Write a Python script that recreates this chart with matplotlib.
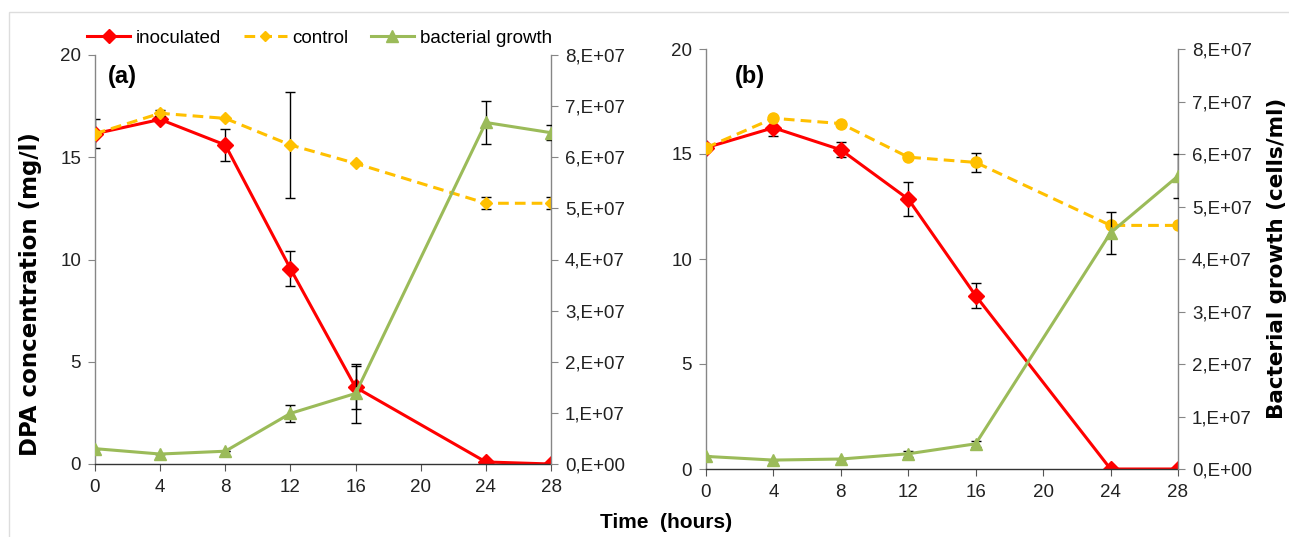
import matplotlib
matplotlib.use("Agg")
import matplotlib.pyplot as plt
from matplotlib.patches import Rectangle
from matplotlib.lines import Line2D
from matplotlib.ticker import FixedLocator, FixedFormatter

plt.rcParams['font.family'] = ['Liberation Sans', 'DejaVu Sans']

time_h = [0, 4, 8, 12, 16, 24, 28]
x_ticks = [0, 4, 8, 12, 16, 20, 24, 28]
left_ticks = [0, 5, 10, 15, 20]
right_ticks = [0, 1e7, 2e7, 3e7, 4e7, 5e7, 6e7, 7e7, 8e7]
right_tick_labels = ["0,E+00", "1,E+07", "2,E+07", "3,E+07", "4,E+07",
                     "5,E+07", "6,E+07", "7,E+07", "8,E+07"]

# Panel (a)
a_inoc = [16.15, 16.85, 15.6, 9.55, 3.75, 0.1, 0.0]
a_inoc_err = [0.7, 0.0, 0.8, 0.85, 1.05, 0.0, 0.0]
a_ctrl = [16.15, 17.15, 16.9, 15.6, 14.7, 12.75, 12.75]
a_ctrl_err = [0.0, 0.15, 0.0, 2.6, 0.0, 0.3, 0.3]
a_bact = [3.0e6, 1.95e6, 2.5e6, 9.9e6, 1.38e7, 6.68e7, 6.48e7]
a_bact_err = [0.0, 0.0, 0.0, 1.7e6, 5.8e6, 4.2e6, 1.5e6]

# Panel (b)
b_inoc = [15.3, 16.25, 15.2, 12.85, 8.25, 0.0, 0.0]
b_inoc_err = [0.0, 0.4, 0.35, 0.8, 0.6, 0.0, 0.0]
b_ctrl = [15.3, 16.7, 16.45, 14.85, 14.6, 11.6, 11.6]
b_ctrl_err = [0.0, 0.0, 0.0, 0.0, 0.45, 0.0, 0.0]
b_bact = [2.4e6, 1.7e6, 1.9e6, 2.9e6, 4.8e6, 4.5e7, 5.58e7]
b_bact_err = [0.0, 0.0, 0.0, 6e5, 6e5, 4.0e6, 4.2e6]

RED = "#FF0000"
GOLD = "#FFC000"
GREEN = "#9BBB59"
AXC = "#868686"

W, H = 1289, 537
fig = plt.figure(figsize=(W / 100, H / 100), dpi=100)

# outer light frame
fig.patches.append(Rectangle((9 / W, -0.1), 1.2, (H - 12) / H + 0.1,
                             transform=fig.transFigure, fill=False,
                             edgecolor="#DDDDDD", linewidth=1.0, zorder=0))


def rect_px(x0, x1, ytop, ybot):
    return [x0 / W, 1 - ybot / H, (x1 - x0) / W, (ybot - ytop) / H]


def panel(rect, inoc, inoc_err, ctrl, ctrl_err, bact, bact_err, ctrl_marker, ctrl_ms, label, label_xy):
    ax = fig.add_axes(rect)
    ax2 = ax.twinx()
    ax.set_xlim(0, 28)
    ax.set_ylim(0, 20)
    ax2.set_ylim(0, 8e7)
    ax.set_facecolor("none")

    # control
    ax.errorbar(time_h, ctrl, yerr=ctrl_err, color=GOLD, linestyle=(0, (3.5, 2)), linewidth=2.2,
                marker=ctrl_marker, markersize=ctrl_ms, markeredgecolor=GOLD,
                ecolor="black", elinewidth=1.0, capsize=3.5, capthick=1.0, zorder=3)
    # inoculated
    ax.errorbar(time_h, inoc, yerr=inoc_err, color=RED, linewidth=2.2,
                marker="D", markersize=8, ecolor="black", elinewidth=1.0,
                capsize=3.5, capthick=1.0, zorder=2)
    # control first point drawn over red
    ax.plot(time_h[:1], ctrl[:1], marker=ctrl_marker, markersize=ctrl_ms, color=GOLD,
            alpha=0.85, linestyle="none", zorder=4)
    # bacterial growth
    ax2.errorbar(time_h, bact, yerr=bact_err, color=GREEN, linewidth=2.2,
                 marker="^", markersize=9, ecolor="black", elinewidth=1.0,
                 capsize=3.5, capthick=1.0, zorder=3)

    ax.xaxis.set_major_locator(FixedLocator(x_ticks))
    ax.yaxis.set_major_locator(FixedLocator(left_ticks))
    ax2.yaxis.set_major_locator(FixedLocator(right_ticks))
    ax2.yaxis.set_major_formatter(FixedFormatter(right_tick_labels))

    for a in (ax, ax2):
        a.spines["top"].set_visible(False)
    ax.spines["right"].set_visible(False)
    ax2.spines["left"].set_visible(False)
    ax2.spines["bottom"].set_visible(False)
    ax.spines["left"].set_color(AXC)
    ax2.spines["right"].set_color(AXC)
    ax.spines["bottom"].set_color("#333333")
    for s in ("left", "bottom"):
        ax.spines[s].set_linewidth(1.0)
    ax2.spines["right"].set_linewidth(1.0)

    ax.tick_params(axis="y", direction="out", length=5, color=AXC, labelsize=13.5, pad=5, labelcolor="#222222")
    ax.tick_params(axis="x", direction="out", length=5, color="#555555", labelsize=13.5, pad=6, labelcolor="#222222")
    ax2.tick_params(axis="y", direction="out", length=5, color=AXC, labelsize=13.5, pad=5, labelcolor="#222222")

    ax.text(label_xy[0] / W, 1 - label_xy[1] / H, label, transform=fig.transFigure, fontsize=17,
            fontweight="bold", ha="center", va="center")
    return ax, ax2


axA, axA2 = panel(rect_px(95, 551, 55, 464),
                  a_inoc, a_inoc_err, a_ctrl, a_ctrl_err, a_bact, a_bact_err,
                  "D", 6, "(a)", (122, 77))
axB, axB2 = panel(rect_px(706, 1178, 49, 469),
                  b_inoc, b_inoc_err, b_ctrl, b_ctrl_err, b_bact, b_bact_err,
                  "o", 8, "(b)", (750, 76))

fig.text(31 / W, 1 - 294 / H, "DPA concentration (mg/l)", rotation=90, ha="center", va="center",
         fontweight="bold", family=["DejaVu Sans"], fontsize=16.5)
fig.text(1277 / W, 1 - 258 / H, "Bacterial growth (cells/ml)", rotation=90, ha="center", va="center",
         fontweight="bold", family=["DejaVu Sans"], fontsize=15.5)
fig.text(666 / W, 1 - 522 / H, "Time  (hours)", ha="center", va="center",
         fontweight="bold", fontsize=15)

handles = [
    Line2D([], [], color=RED, linewidth=2.2, marker="D", markersize=7),
    Line2D([], [], color=GOLD, linewidth=2.2, linestyle=(0, (3.5, 2)), marker="D", markersize=5),
    Line2D([], [], color=GREEN, linewidth=2.2, marker="^", markersize=8),
]
fig.legend(handles, ["inoculated", "control", "bacterial growth"],
           loc="center left", bbox_to_anchor=(87 / W, 1 - 38 / H), ncol=3,
           frameon=False, fontsize=13.5, handlelength=2.3, handletextpad=0.3,
           columnspacing=1.2, borderaxespad=0, borderpad=0)

fig.savefig("out.png", dpi=100)
